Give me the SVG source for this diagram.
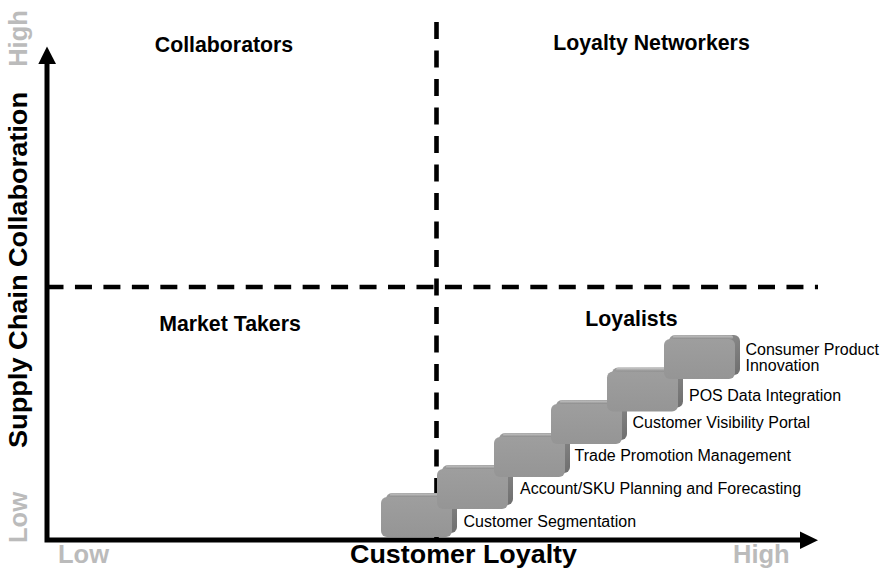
<svg xmlns="http://www.w3.org/2000/svg" xmlns:xlink="http://www.w3.org/1999/xlink" width="886" height="569" viewBox="0 0 886 569">
<style>
.t{font-family:"Liberation Sans",Arial,sans-serif;}
.q{font-size:21.3px;font-weight:bold;fill:#000;text-anchor:middle;}
.ax{font-size:26.7px;font-weight:bold;fill:#000;}
.g{font-size:25.5px;font-weight:bold;fill:#bbbbbb;}
.s{font-size:16px;fill:#000;}
.dash{stroke:#000;stroke-width:4.6;fill:none;}
</style>
<defs>
<linearGradient id="side" x1="0" y1="0" x2="1" y2="1">
<stop offset="0" stop-color="#9c9c9c"/>
<stop offset="1" stop-color="#6e6e6e"/>
</linearGradient>
<linearGradient id="topg" x1="0" y1="0" x2="0" y2="1">
<stop offset="0" stop-color="#c4c4c4"/>
<stop offset="1" stop-color="#8c8c8c"/>
</linearGradient>
<linearGradient id="face" x1="0" y1="0" x2="0" y2="1">
<stop offset="0" stop-color="#9e9e9e"/>
<stop offset="1" stop-color="#959595"/>
</linearGradient>
<g id="block">
<rect x="5" y="0" width="71" height="40" rx="6" fill="url(#side)"/>
<rect x="9" y="0.6" width="60" height="3.4" rx="1.5" fill="url(#topg)"/>
<rect x="0" y="4" width="71" height="40" rx="6" fill="url(#face)"/>
</g>
</defs>
<rect width="886" height="569" fill="#fff"/>
<g id="connectors">
<path class="dash" d="M46.5,287 H818" stroke-dasharray="17 11.46"/>
<path class="dash" d="M436.5,22 V538" stroke-dasharray="17 11.5"/>
<path d="M47,64 V540 H801" stroke="#000" stroke-width="5" fill="none" stroke-linejoin="miter"/>
<polygon points="38.3,64 47,46.5 56,64" fill="#000"/>
<polygon points="800,531.5 818,540.3 800,549" fill="#000"/>
</g>
<g id="quadrant-labels" class="t">
<text class="t q" x="224" y="51.5">Collaborators</text>
<text class="t q" x="651.5" y="50">Loyalty Networkers</text>
<text class="t q" x="230" y="330.5">Market Takers</text>
<text class="t q" x="631.5" y="326">Loyalists</text>
</g>
<g id="axis-labels">
<text class="t ax" x="350" y="563.3" textLength="227" lengthAdjust="spacingAndGlyphs">Customer Loyalty</text>
<text class="t ax" transform="translate(26.5,270) rotate(-90)" text-anchor="middle" textLength="356" lengthAdjust="spacingAndGlyphs">Supply Chain Collaboration</text>
<text class="t g" x="58" y="563">Low</text>
<text class="t g" x="733" y="563">High</text>
<text class="t g" transform="translate(26.5,517.5) rotate(-90)" text-anchor="middle">Low</text>
<text class="t g" transform="translate(26.5,38.5) rotate(-90)" text-anchor="middle">High</text>
</g>
<g id="step1"><use xlink:href="#block" x="381" y="493"/><text class="t s" x="463.5" y="526.5">Customer Segmentation</text></g>
<g id="step2"><use xlink:href="#block" x="437" y="465"/><text class="t s" x="520" y="493.5">Account/SKU Planning and Forecasting</text></g>
<g id="step3"><use xlink:href="#block" x="494" y="433"/><text class="t s" x="574.5" y="460.5">Trade Promotion Management</text></g>
<g id="step4"><use xlink:href="#block" x="551" y="400"/><text class="t s" x="632.5" y="427.5">Customer Visibility Portal</text></g>
<g id="step5"><use xlink:href="#block" x="607" y="367.5"/><text class="t s" x="689" y="400.5">POS Data Integration</text></g>
<g id="step6"><use xlink:href="#block" x="664" y="335"/><text class="t s" x="745.5" y="354.5">Consumer Product</text><text class="t s" x="745.5" y="370.5">Innovation</text></g>
</svg>
